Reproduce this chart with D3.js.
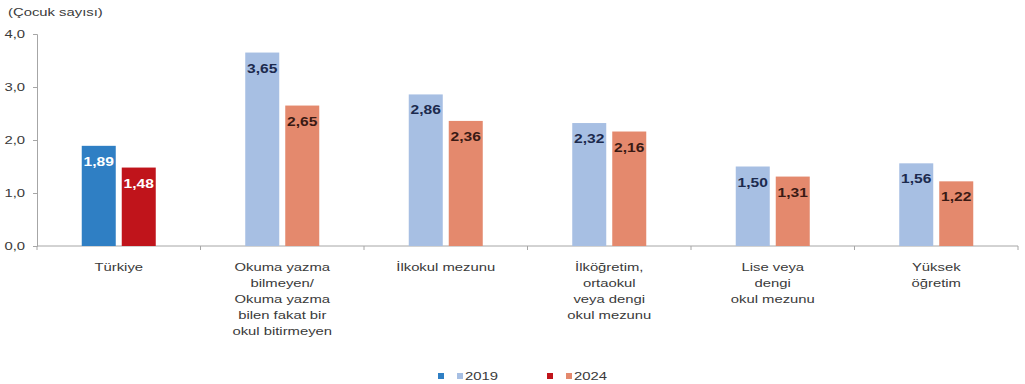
<!DOCTYPE html>
<html>
<head>
<meta charset="utf-8">
<script src="https://cdn.jsdelivr.net/npm/d3@7"></script>
<style>
  html, body { margin: 0; padding: 0; background: #fff; }
  svg { display: block; font-family: "Liberation Sans", Arial, sans-serif; }
</style>
</head>
<body>
<svg id="chart" width="1025" height="384"></svg>
<script>
// Mean number of children by education level
const categories = [
  ["Türkiye"],
  ["Okuma yazma", "bilmeyen/", "Okuma yazma", "bilen fakat bir", "okul bitirmeyen"],
  ["İlkokul mezunu"],
  ["İlköğretim,", "ortaokul", "veya dengi", "okul mezunu"],
  ["Lise veya", "dengi", "okul mezunu"],
  ["Yüksek", "öğretim"]
];
const values2019 = [1.89, 3.65, 2.86, 2.32, 1.50, 1.56];
const values2024 = [1.48, 2.65, 2.36, 2.16, 1.31, 1.22];
const yTicks = [0, 1, 2, 3, 4];
const seriesNames = ["2019", "2024"];

const svg = d3.select("#chart");
const margin = { left: 37, right: 1018, top: 34, bottom: 246 };
// Text is drawn slightly widened horizontally
const SX = 1.35;

const x = d3.scaleBand()
  .domain(d3.range(categories.length))
  .range([margin.left, margin.right])
  .padding(0);

const y = d3.scaleLinear().domain([0, 4]).range([margin.bottom, margin.top]);

const fmt = v => d3.format(".2f")(v).replace(".", ",");
const fmtTick = v => d3.format(".1f")(v).replace(".", ",");

const axisColor = "#a6a6a6";
const textColor = "#3a3a3a";

// Y axis
const yAxis = svg.append("g")
  .attr("transform", `translate(${margin.left},0)`)
  .call(d3.axisLeft(y).tickValues(yTicks).tickSize(4).tickFormat(fmtTick));
yAxis.select(".domain").attr("stroke", axisColor);
yAxis.selectAll(".tick line").attr("stroke", axisColor);
yAxis.selectAll(".tick text")
  .attr("fill", textColor)
  .attr("font-size", 11)
  .attr("x", 0)
  .attr("transform", `translate(-12,0) scale(${SX},1)`)
  .attr("font-family", "Liberation Sans, Arial, sans-serif");

// X axis baseline with category boundary ticks
const xg = svg.append("g");
xg.append("line")
  .attr("x1", margin.left).attr("x2", margin.right)
  .attr("y1", y(0)).attr("y2", y(0))
  .attr("stroke", axisColor);
const bounds = d3.range(categories.length + 1).map(i =>
  i < categories.length ? x(i) : x(categories.length - 1) + x.bandwidth());
xg.selectAll("line.tick").data(bounds).join("line")
  .attr("class", "tick")
  .attr("x1", d => d).attr("x2", d => d)
  .attr("y1", y(0)).attr("y2", y(0) + 4)
  .attr("stroke", axisColor);

// Category labels
xg.selectAll("text.cat").data(categories).join("text")
  .attr("class", "cat")
  .attr("text-anchor", "middle")
  .attr("font-size", 11)
  .attr("fill", textColor)
  .attr("transform", (d, i) => `translate(${x(i) + x.bandwidth() / 2},0) scale(${SX},1)`)
  .each(function(lines) {
    const t = d3.select(this);
    lines.forEach((ln, j) => {
      t.append("tspan")
        .attr("x", 0)
        .attr("y", 271 + j * 16)
        .text(ln);
    });
  });

// Unit label
svg.append("text")
  .attr("transform", `translate(8,16) scale(${SX},1)`)
  .attr("font-size", 11)
  .attr("fill", textColor)
  .text("(Çocuk sayısı)");

// Bars
const barW = 34, gap = 6;
const colors2019 = ["#2f7fc4", "#a7bfe3", "#a7bfe3", "#a7bfe3", "#a7bfe3", "#a7bfe3"];
const colors2024 = ["#c0141b", "#e4896d", "#e4896d", "#e4896d", "#e4896d", "#e4896d"];
const labelColors = ["#ffffff", "#1c2a4e", "#1c2a4e", "#1c2a4e", "#1c2a4e", "#1c2a4e"];
const labelColors24 = ["#ffffff", "#3a1a14", "#3a1a14", "#3a1a14", "#3a1a14", "#3a1a14"];

const series = [
  { name: seriesNames[0], values: values2019, colors: colors2019, lc: labelColors, off: -gap / 2 - barW },
  { name: seriesNames[1], values: values2024, colors: colors2024, lc: labelColors24, off: gap / 2 }
];

series.forEach(s => {
  const g = svg.append("g");
  g.selectAll("rect").data(s.values).join("rect")
    .attr("x", (d, i) => x(i) + x.bandwidth() / 2 + s.off)
    .attr("y", d => y(d))
    .attr("width", barW)
    .attr("height", d => y(0) - y(d))
    .attr("fill", (d, i) => s.colors[i]);
  g.selectAll("text").data(s.values).join("text")
    .attr("transform", (d, i) =>
      `translate(${x(i) + x.bandwidth() / 2 + s.off + barW / 2},${y(d) + 20}) scale(1.3,1)`)
    .attr("text-anchor", "middle")
    .attr("font-size", 12)
    .attr("font-weight", "bold")
    .attr("fill", (d, i) => s.lc[i])
    .text(d => fmt(d));
});

// Legend
const legend = svg.append("g").attr("transform", "translate(0,376)");
const legendItems = [
  { dark: colors2019[0], light: colors2019[1], label: seriesNames[0], x: 438 },
  { dark: colors2024[0], light: colors2024[1], label: seriesNames[1], x: 547 }
];
legendItems.forEach(it => {
  legend.append("rect").attr("x", it.x).attr("y", -3).attr("width", 6).attr("height", 6).attr("fill", it.dark);
  legend.append("rect").attr("x", it.x + 19).attr("y", -3).attr("width", 6).attr("height", 6).attr("fill", it.light);
  legend.append("text")
    .attr("transform", `translate(${it.x + 27},4) scale(${SX},1)`)
    .attr("font-size", 11).attr("fill", textColor).text(it.label);
});
</script>
</body>
</html>
